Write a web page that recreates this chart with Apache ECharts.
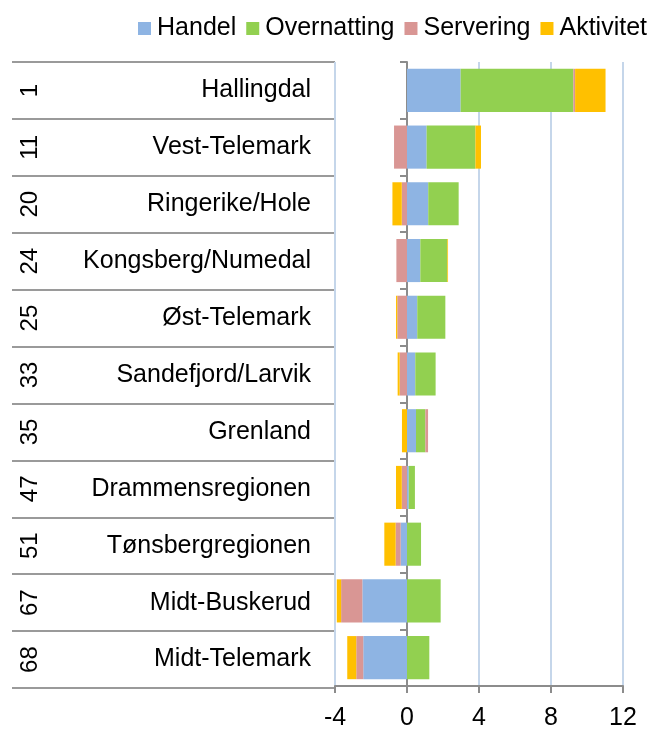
<!DOCTYPE html>
<html>
<head>
<meta charset="utf-8">
<script src="https://cdn.jsdelivr.net/npm/echarts@6/dist/echarts.min.js"></script>
<style>
  html, body { margin: 0; padding: 0; background: #fff; }
  #chart { width: 656px; height: 731px; }
</style>
</head>
<body>
<div id="chart"></div>
<script>
// Regions with their ranking, top to bottom
const regions = ['Hallingdal', 'Vest-Telemark', 'Ringerike/Hole', 'Kongsberg/Numedal', 'Øst-Telemark',
  'Sandefjord/Larvik', 'Grenland', 'Drammensregionen', 'Tønsbergregionen', 'Midt-Buskerud', 'Midt-Telemark'];
const ranks = ['1', '11', '20', '24', '25', '33', '35', '47', '51', '67', '68'];

// Contributions per sector
const handel      = [2.98, 1.09, 1.18, 0.74, 0.57, 0.46, 0.50, 0.10, -0.35, -2.48, -2.43];
const overnatting = [6.26, 2.71, 1.69, 1.50, 1.56, 1.13, 0.52, 0.34, 0.78, 1.87, 1.24];
const servering   = [0.10, -0.72, -0.29, -0.59, -0.54, -0.41, 0.15, -0.29, -0.28, -1.18, -0.39];
const aktivitet   = [1.69, 0.31, -0.52, 0.04, -0.07, -0.11, -0.28, -0.32, -0.63, -0.24, -0.50];

const xTicks = { min: -4, max: 12, interval: 4 };

const FONT = '"Liberation Sans", Arial, sans-serif';
const GRAY = '#8c8c8c';
const GRID_BLUE = '#c5d6ea';

const seriesDefs = [
  { name: 'Handel', data: handel, color: '#8eb4e3' },
  { name: 'Overnatting', data: overnatting, color: '#92d050' },
  { name: 'Servering', data: servering, color: '#d99694' },
  { name: 'Aktivitet', data: aktivitet, color: '#ffc000' }
];

const chart = echarts.init(document.getElementById('chart'), null, { renderer: 'canvas' });

chart.setOption({
  animation: false,
  textStyle: { fontFamily: FONT },
  legend: {
    top: 11,
    right: 4,
    itemWidth: 13,
    itemHeight: 13,
    itemGap: 10,
    icon: 'rect',
    textStyle: { fontSize: 25, color: '#000', fontFamily: FONT, padding: [0, 0, 0, 1] },
    data: seriesDefs.map(s => s.name)
  },
  grid: [
    { left: 335, right: 33, top: 62, bottom: 43 },
    { left: 12, width: 323, top: 62, bottom: 43 }
  ],
  xAxis: [
    {
      gridIndex: 0,
      type: 'value',
      min: xTicks.min,
      max: xTicks.max,
      interval: xTicks.interval,
      axisLine: { show: true, onZero: false, lineStyle: { color: GRAY, width: 2 } },
      axisTick: { show: true, length: 7, lineStyle: { color: GRAY, width: 2 } },
      axisLabel: { fontSize: 25, color: '#000', margin: 20, fontFamily: FONT },
      splitLine: { show: true, lineStyle: { color: GRID_BLUE, width: 2 } }
    },
    {
      gridIndex: 1,
      type: 'value',
      show: false
    }
  ],
  yAxis: [
    {
      gridIndex: 0,
      type: 'category',
      inverse: true,
      data: regions,
      axisLine: { show: true, onZero: true, lineStyle: { color: GRAY, width: 2 } },
      axisTick: { show: true, length: 7, lineStyle: { color: GRAY, width: 2 } },
      axisLabel: { show: false },
      splitLine: { show: false }
    },
    {
      gridIndex: 1,
      type: 'category',
      inverse: true,
      position: 'right',
      data: regions,
      axisLine: { show: false },
      axisTick: { show: false },
      axisLabel: { inside: true, margin: 24, fontSize: 25, color: '#000', fontFamily: FONT },
      splitLine: { show: true, lineStyle: { color: '#9a9a9a', width: 2 } }
    },
    {
      gridIndex: 1,
      type: 'category',
      inverse: true,
      position: 'left',
      data: ranks,
      axisLine: { show: false },
      axisTick: { show: false },
      axisLabel: { inside: true, rotate: 90, margin: 6, fontSize: 24, color: '#000', fontFamily: FONT },
      splitLine: { show: false }
    }
  ],
  series: seriesDefs.map(s => ({
    name: s.name,
    type: 'bar',
    xAxisIndex: 0,
    yAxisIndex: 0,
    stack: 'total',
    barWidth: '76%',
    itemStyle: { color: s.color },
    data: s.data
  }))
});
</script>
</body>
</html>
